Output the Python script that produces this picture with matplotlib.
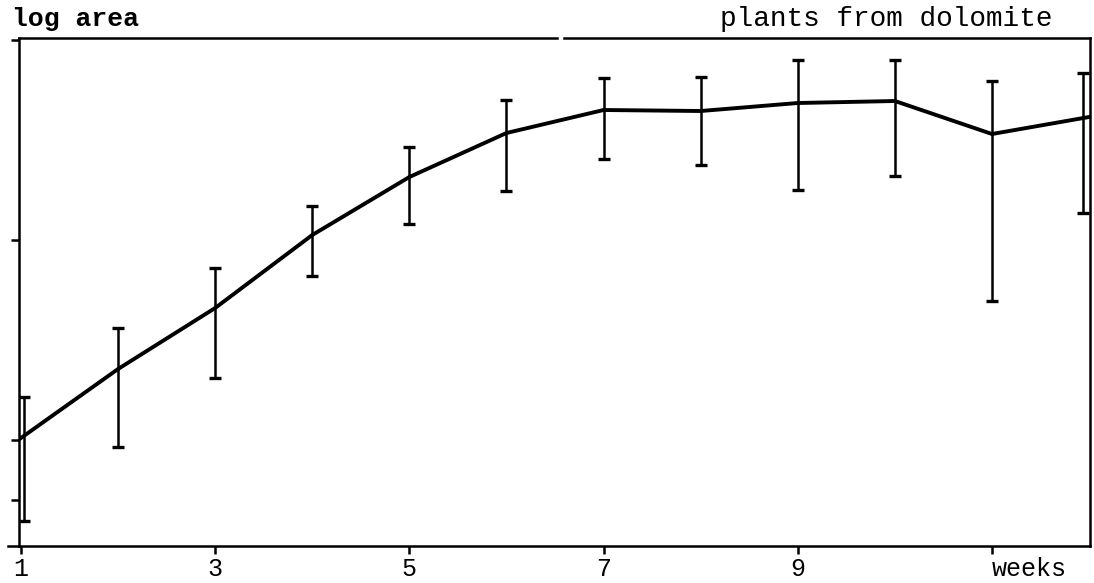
import matplotlib.pyplot as plt
import numpy as np

# log area of plants grown from dolomite
weeks = [1, 2, 3, 4, 5, 6, 7, 8, 9, 10, 11, 12]
log_area = [0.01, 0.355, 0.66, 1.025, 1.315, 1.535, 1.65, 1.645, 1.685, 1.695, 1.53, 1.615]
err_low = [-0.405, -0.035, 0.31, 0.82, 1.08, 1.245, 1.405, 1.375, 1.25, 1.32, 0.695, 1.135]
err_high = [0.215, 0.56, 0.86, 1.17, 1.465, 1.70, 1.81, 1.815, 1.90, 1.90, 1.795, 1.835]

y_ticks = [-0.3, 0, 1, 2]
x_ticks = [1, 3, 5, 7, 9, 11]
x_labels = ['1', '3', '5', '7', '9', 'weeks']

font = 'Liberation Mono'

fig = plt.figure(figsize=(10.94, 5.83), dpi=100)
ax = fig.add_axes([0.0174, 0.0635, 0.979, 0.8713])

y = np.array(log_area)
lo = y - np.array(err_low)
hi = np.array(err_high) - y

# the bars at the ends sit just inside the frame
bar_x = np.array(weeks, dtype=float)
bar_x[0] += 0.03
bar_x[-1] -= 0.06

ax.errorbar(bar_x, y, yerr=[lo, hi], fmt='none', ecolor='black',
            elinewidth=1.8, capsize=4, capthick=2.4)
ax.plot(weeks, y, color='black', lw=2.8, solid_joinstyle='miter')

ax.set_xlim(0.98, 12.01)
ax.set_ylim(-0.53, 2.01)

ax.set_yticks(y_ticks)
ax.set_yticklabels([])
ax.set_xticks(x_ticks)
ax.set_xticklabels(x_labels, fontfamily=font, fontsize=18)
ax.get_xticklabels()[-1].set_ha('left')
ax.tick_params(direction='out', length=6, width=1.8, pad=2)

for side in ['left', 'bottom', 'right']:
    ax.spines[side].set_linewidth(1.8)
ax.spines['top'].set_visible(False)

# top border drawn with a small break, as in the original
ax.plot([0, 0.502], [1, 1], transform=ax.transAxes, color='black', lw=1.8, clip_on=False)
ax.plot([0.509, 1], [1, 1], transform=ax.transAxes, color='black', lw=1.8, clip_on=False)
ax.plot([-0.01, 0], [0, 0], transform=ax.transAxes, color='black', lw=1.8, clip_on=False)

fig.text(0.011, 0.955, 'log area', fontfamily=font, fontsize=19, fontweight='bold',
         ha='left', va='baseline')
fig.text(0.962, 0.955, 'plants from dolomite', fontfamily=font, fontsize=20,
         ha='right', va='baseline')

fig.savefig('out.png', dpi=100)
